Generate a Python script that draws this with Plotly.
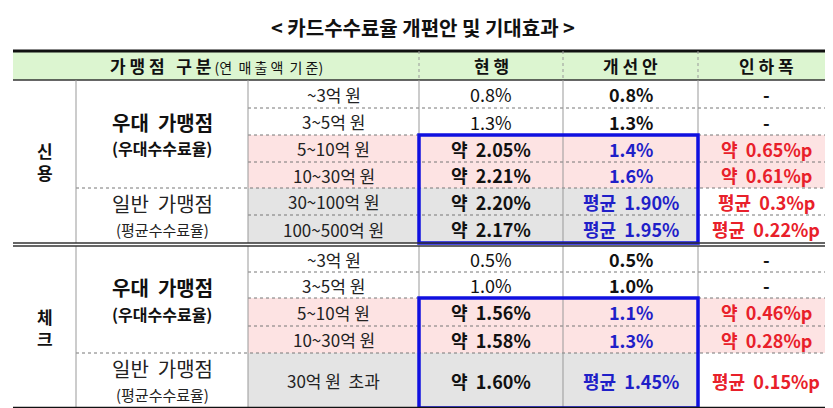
import plotly.graph_objects as go

title = "< 카드수수료율 개편안 및 기대효과 >"
headers = ["가맹점 구분", "현 행", "개 선 안", "인 하 폭"]
header_sub = "(연 매출액 기준)"

card_types = [["신", "용"], ["체", "크"]]
group_names = [["우대  가맹점", "(우대수수료율)"], ["일반  가맹점", "(평균수수료율)"]]
sales_ranges = [
    ["~3억 원", "3~5억 원", "5~10억 원", "10~30억 원", "30~100억 원", "100~500억 원"],
    ["~3억 원", "3~5억 원", "5~10억 원", "10~30억 원", "30억 원  초과"],
]
current_rate = [
    ["0.8%", "1.3%", "약  2.05%", "약  2.21%", "약  2.20%", "약  2.17%"],
    ["0.5%", "1.0%", "약  1.56%", "약  1.58%", "약  1.60%"],
]
new_rate = [
    ["0.8%", "1.3%", "1.4%", "1.6%", "평균  1.90%", "평균  1.95%"],
    ["0.5%", "1.0%", "1.1%", "1.3%", "평균  1.45%"],
]
cut = [
    ["-", "-", "약  0.65%p", "약  0.61%p", "평균  0.3%p", "평균  0.22%p"],
    ["-", "-", "약  0.46%p", "약  0.28%p", "평균  0.15%p"],
]
row_kind = [
    ["plain", "plain", "pink", "pink", "gray", "gray"],
    ["plain", "plain", "pink", "pink", "gray"],
]

# layout (pixels)
col_x = [5, 68, 240, 411, 555, 690, 826]
row_y = [
    [72, 100, 127, 154, 180, 207, 235],
    [238, 264, 290, 318, 345, 400],
]
FONT = "Noto Sans CJK KR"
PINK, GRAY, GREEN = "#fde3e3", "#e4e4e4", "#dcf5d0"
BLUE, RED = "#1f1fc8", "#e8202a"

shapes, ann = [], []

def rect(x0, y0, x1, y1, fill):
    shapes.append(dict(type="rect", x0=x0, y0=y0, x1=x1, y1=y1, fillcolor=fill,
                       line=dict(width=0), layer="below"))

def line(x0, y0, x1, y1, color="#888", width=1, dash="solid"):
    shapes.append(dict(type="line", x0=x0, y0=y0, x1=x1, y1=y1,
                       line=dict(color=color, width=width, dash=dash)))

def text(x, y, s, size=15, color="#111", bold=False):
    if bold:
        s = "<b>" + s + "</b>"
    ann.append(dict(x=x, y=y, text=s, showarrow=False, xanchor="center", yanchor="middle",
                    font=dict(family=FONT, size=size, color=color)))

text(415, 19, title, size=20, bold=True)

# header
rect(col_x[0], 43, col_x[-1], 72, GREEN)
line(col_x[0], 43, col_x[-1], 43, "#111", 3)
line(col_x[0], 72, col_x[-1], 72, "#333", 1.5)
text((col_x[0] + col_x[3]) / 2, 57,
     "<b>가 맹 점   구 분</b><span style='font-size:14px'> (연  매 출 액  기 준)</span>", size=17)
for i in range(1, 4):
    text((col_x[i + 2] + col_x[i + 3]) / 2, 57, headers[i], size=17, bold=True)
for x in col_x[3:6]:
    line(x, 43, x, 72, "#999", 1, "dot")

for s in range(2):
    ys = row_y[s]
    n = len(sales_ranges[s])
    for r in range(n):
        y0, y1, ym = ys[r], ys[r + 1], (ys[r] + ys[r + 1]) / 2
        k = row_kind[s][r]
        if k == "pink":
            rect(col_x[2], y0, col_x[6], y1, PINK)
        elif k == "gray":
            rect(col_x[2], y0, col_x[5], y1, GRAY)
        text((col_x[2] + col_x[3]) / 2, ym, sales_ranges[s][r], size=17, color="#222")
        strong = k != "plain"
        text((col_x[3] + col_x[4]) / 2, ym, current_rate[s][r], size=18, bold=strong)
        text((col_x[4] + col_x[5]) / 2, ym, new_rate[s][r], size=18, bold=True,
             color=BLUE if strong else "#111")
        text((col_x[5] + col_x[6]) / 2, ym, cut[s][r], size=18, bold=True,
             color=RED if strong else "#111")
        if r > 0:
            x_start = col_x[1] if r == 4 else col_x[2]
            line(x_start, y0, col_x[6], y0, "#777", 1, "dot")
    # group labels
    cx0 = (col_x[0] + col_x[1]) / 2
    cy = (ys[0] + ys[-1]) / 2
    text(cx0, cy - 11, card_types[s][0], size=17, bold=True)
    text(cx0, cy + 11, card_types[s][1], size=17, bold=True)
    cx1 = (col_x[1] + col_x[2]) / 2
    gy = (ys[0] + ys[4]) / 2
    text(cx1, gy - 12, group_names[0][0], size=20, bold=True)
    text(cx1, gy + 14, group_names[0][1], size=16, bold=True)
    gy = (ys[4] + ys[-1]) / 2
    text(cx1, gy - 12, group_names[1][0], size=20, color="#222")
    text(cx1, gy + 14, group_names[1][1], size=15, color="#222")
    for x in col_x[1:6]:
        line(x, ys[0], x, ys[-1], "#999", 1)
    shapes.append(dict(type="rect", x0=col_x[3], y0=ys[2], x1=col_x[5], y1=ys[-1],
                       line=dict(color="#1010e0", width=3.5)))

line(col_x[0], 235, col_x[-1], 235, "#333", 1.5)
line(col_x[0], 238, col_x[-1], 238, "#333", 1.5)
line(col_x[0], 400, col_x[-1], 400, "#111", 2.5)

fig = go.Figure()
fig.update_layout(
    width=833, height=408, margin=dict(l=0, r=0, t=0, b=0),
    paper_bgcolor="white", plot_bgcolor="white",
    xaxis=dict(range=[0, 833], visible=False, fixedrange=True),
    yaxis=dict(range=[408, 0], visible=False, fixedrange=True),
    shapes=shapes, annotations=ann, showlegend=False,
)
fig.write_html("out.html")
